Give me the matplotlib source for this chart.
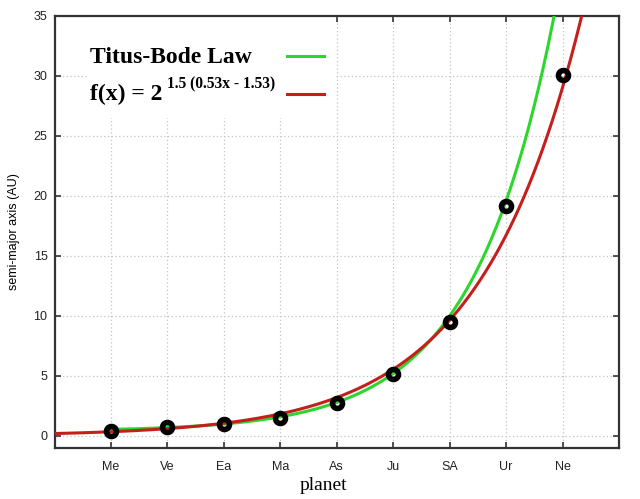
import numpy as np
import matplotlib
matplotlib.use("Agg")
import matplotlib.pyplot as plt
from matplotlib.patches import Rectangle

# planets (Me..Ne), with the asteroid belt as "As"
planets = ["Me", "Ve", "Ea", "Ma", "As", "Ju", "SA", "Ur", "Ne"]
planet_idx = [1, 2, 3, 4, 5, 6, 7, 8, 9]
semi_major = [0.39, 0.72, 1.00, 1.52, 2.77, 5.20, 9.54, 19.20, 30.06]

# Titus-Bode law: a = 0.4 + 0.3 * 2^(x - 2), drawn from Mercury on
tb_a, tb_b, tb_start = 0.4, 0.3, 1
# fitted law: f(x) = 2^(1.5 (0.53x - 1.53))
fit_k, fit_m, fit_c = 1.5, 0.53, 1.53

GREEN = "#2cd62c"
RED = "#c41f1c"
FRAME = "#333333"
KEY_FONT = {"family": "Liberation Serif", "weight": "bold"}

fig = plt.figure(figsize=(6.40, 4.99), dpi=100)
ax = fig.add_axes([54.5 / 640, 1 - 448 / 499, 564.5 / 640, 432 / 499])

xs = np.linspace(0, 10, 600)
xg = xs[xs >= tb_start]
ax.plot(xg, tb_a + tb_b * 2 ** (xg - 2), color=GREEN, lw=2.2, zorder=3)
ax.plot(xs, 2 ** (fit_k * (fit_m * xs - fit_c)), color=RED, lw=2.2, zorder=4)
ax.plot(planet_idx, semi_major, ls="none", marker="o", ms=7.2, mew=4,
        mfc="none", mec="black", zorder=5)

ax.set_xlim(0, 10)
ax.set_ylim(-1, 35)
ax.set_xticks(planet_idx)
ax.set_xticklabels(planets)
ax.set_yticks(np.arange(0, 36, 5))

ax.grid(True, color="#c4c4c4", lw=0.9, ls=(0, (1, 2)))
ax.set_axisbelow(True)
for sp in ax.spines.values():
    sp.set_color(FRAME)
    sp.set_linewidth(1.6)
ax.tick_params(direction="in", length=4, width=1.2, color=FRAME,
               top=True, right=True, labelsize=9)
ax.tick_params(axis="x", pad=9)
ax.tick_params(axis="y", pad=5)
for lab in ax.get_xticklabels() + ax.get_yticklabels():
    lab.set_fontfamily("Liberation Sans")
    lab.set_color("#222222")

ax.set_xlabel("planet", family="Liberation Serif", fontsize=14)
ax.xaxis.set_label_coords(0.476, -0.068)
ax.set_ylabel("semi-major axis (AU)", family="Liberation Sans", fontsize=9)
ax.yaxis.set_label_coords(-0.061, 0.5)

# --- key (gnuplot style: opaque box, text left, line samples right) -------
ax.add_patch(Rectangle((32.5 / 564.5, 330 / 432), 249 / 564.5, 102 / 432,
                       transform=ax.transAxes, facecolor="white",
                       edgecolor="none", zorder=1.5))
tr = ax.transAxes
ax.text(0.063, 0.891, "Titus-Bode Law", transform=tr, fontsize=17,
        va="baseline", ha="left", zorder=6, **KEY_FONT)
ax.text(0.063, 0.806, "f(x) = 2", transform=tr, fontsize=17,
        va="baseline", ha="left", zorder=6, **KEY_FONT)
ax.text(0.1993, 0.833, "1.5 (0.53x - 1.53)", transform=tr, fontsize=11.2,
        va="baseline", ha="left", zorder=6, **KEY_FONT)
ax.plot([0.412, 0.477], [0.907, 0.907], color=GREEN, lw=2.2,
        transform=tr, zorder=6)
ax.plot([0.412, 0.477], [0.819, 0.819], color=RED, lw=2.2,
        transform=tr, zorder=6)

fig.savefig("out.png", dpi=100)
